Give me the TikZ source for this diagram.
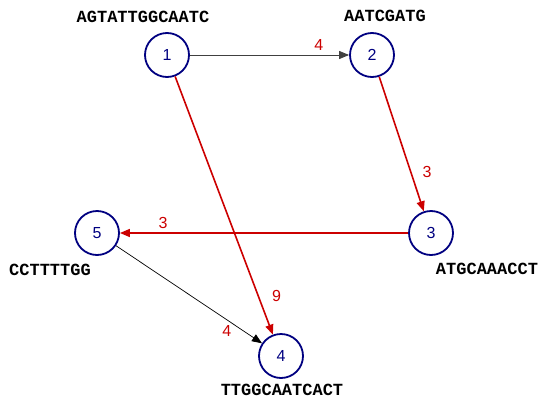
\documentclass[tikz,border=0pt]{standalone}
\usepackage{fontspec}
\setmainfont{Liberation Sans}
\setmonofont{Liberation Mono}
\usepackage{xcolor}
\definecolor{nodeblue}{HTML}{000080}
\definecolor{pathred}{HTML}{CC0000}
\usepackage{tikz}
\usetikzlibrary{positioning,arrows.meta}
\tikzset{
  vtx/.style ={circle, draw=nodeblue, line width=1.8pt, minimum size=44pt, inner sep=0pt,
               text=nodeblue, font=\fontsize{16}{16}\selectfont},
  seq/.style ={font=\fontsize{17}{17}\selectfont\ttfamily\bfseries, inner sep=0pt},
  arr/.style ={-{Triangle[length=10pt,width=8pt]}, line width=0.9pt, black!75},
  tarr/.style={-{Triangle[length=10pt,width=8pt]}, line width=0.7pt, black},
  rarr/.style={-{Triangle[length=10pt,width=8pt]}, line width=1.6pt, pathred},
  el/.style  ={font=\fontsize{16}{16}\selectfont, text=pathred, inner sep=1pt},
}

\begin{document}
\begin{tikzpicture}[x=1pt, y=-1pt]
  \useasboundingbox (0,0) rectangle (541,399);
  \node[vtx] (v1) at (167,55) {1};
  \node[vtx] (v2) at (372,55) {2};
  \node[vtx] (v3) at (431,233) {3};
  \node[vtx] (v4) at (281,356) {4};
  \node[vtx] (v5) at (97,233) {5};
  \node[seq] (s1) at (143,17) {AGTATTGGCAATC};
  \node[seq] (s2) at (385,16) {AATCGATG};
  \node[seq] (s3) at (487,269) {ATGCAAACCT};
  \node[seq] (s5) at (50,270) {CCTTTTGG};
  \node[seq] (s4) at (282,390) {TTGGCAATCACT};
  \draw[arr]  (v1) -- node[el, pos=0.81, above=3pt]{4} (v2);
  \draw[rarr] (v2) -- node[el, pos=0.71, right=10pt]{3} (v3);
  \draw[rarr] (v3) -- node[el, pos=0.85, above=3pt]{3} (v5);
  \draw[rarr] (v1) -- node[el, pos=0.85, right=12pt]{9} (v4);
  \draw[tarr] (v5) -- node[el, pos=0.76, below=4pt]{4} (v4);
\end{tikzpicture}
\end{document}
